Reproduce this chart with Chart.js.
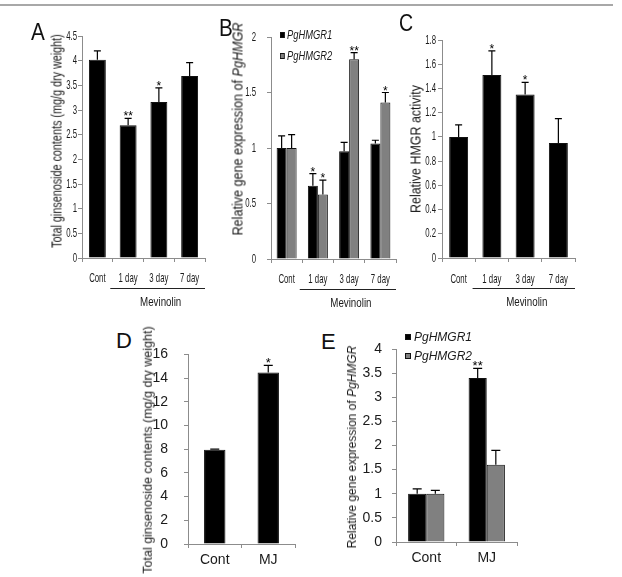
<!DOCTYPE html>
<html>
<head>
<meta charset="utf-8">
<script src="https://cdn.jsdelivr.net/npm/chart.js@4.4.0/dist/chart.umd.min.js"></script>
<style>
  body { margin: 0; background: #fff; width: 622px; height: 577px; position: relative; overflow: hidden;
         font-family: 'Liberation Sans', Arial, sans-serif; }
  canvas { position: absolute; }
  .rule { position: absolute; left: 0; top: 4px; width: 613px; height: 2px; background: #a8a8a8; }
  .letter { position: absolute; color: #111; line-height: 1; }
  .ytitle { position: absolute; white-space: nowrap; color: #1a1a1a; line-height: 1; }
  .legend { position: absolute; color: #1a1a1a; line-height: 1; transform-origin: 0 0; }
  .legend div { display: flex; align-items: center; white-space: nowrap; font-style: italic; }
  .legend span.sw { display: inline-block; box-sizing: border-box; border: 1px solid #111; margin-right: 3px; }
</style>
</head>
<body>
<div class="rule"></div>

<canvas id="chartA" width="180" height="300" style="left:30px;top:15px"></canvas>
<canvas id="chartB" width="190" height="300" style="left:212px;top:15px"></canvas>
<canvas id="chartC" width="177" height="300" style="left:405px;top:15px"></canvas>
<canvas id="chartD" width="170" height="240" style="left:135px;top:330px"></canvas>
<canvas id="chartE" width="190" height="240" style="left:340px;top:330px"></canvas>

<div class="letter" style="left:31px;top:21px;font-size:23px;transform:scaleX(0.9);transform-origin:0 0">A</div>
<div class="letter" style="left:219px;top:17px;font-size:23px;transform:scaleX(0.9);transform-origin:0 0">B</div>
<div class="letter" style="left:399px;top:12px;font-size:23px;transform:scaleX(0.85);transform-origin:0 0">C</div>
<div class="letter" style="left:116px;top:330px;font-size:22px">D</div>
<div class="letter" style="left:321px;top:331px;font-size:22px">E</div>

<div class="ytitle" style="left:56px;top:141px;font-size:15px;transform:translate(-50%,-50%) rotate(-90deg) scaleX(0.72)">Total ginsenoside contents (mg/g dry weight)</div>
<div class="ytitle" style="left:237px;top:129px;font-size:15px;transform:translate(-50%,-50%) rotate(-90deg) scaleX(0.84)">Relative gene expression of <i>PgHMGR</i></div>
<div class="ytitle" style="left:415px;top:149px;font-size:15px;transform:translate(-50%,-50%) rotate(-90deg) scaleX(0.83)">Relative HMGR activity</div>
<div class="ytitle" style="left:148px;top:450px;font-size:12.5px;transform:translate(-50%,-50%) rotate(-90deg)">Total ginsenoside contents (mg/g dry weight)</div>
<div class="ytitle" style="left:352px;top:447px;font-size:12px;transform:translate(-50%,-50%) rotate(-90deg)">Relative gene expression of <i>PgHMGR</i></div>

<div class="legend" id="legendB" style="left:280px;top:29px;font-size:12px;transform:scaleX(0.78)"></div>
<div class="legend" id="legendE" style="left:405px;top:331px;font-size:12px"></div>

<script>
// Categories
const mevinolinLabels = ['Cont', '1 day', '3 day', '7 day'];
const mjLabels = ['Cont', 'MJ'];
const geneNames = ['PgHMGR1', 'PgHMGR2'];
const groupLabel = 'Mevinolin';

// A: total ginsenoside, mevinolin
const ginsenosideMev = [4.02, 2.69, 3.16, 3.69];
const ginsenosideMevErr = [0.18, 0.14, 0.29, 0.27];
const ginsenosideMevSig = ['', '**', '*', ''];

// B: gene expression, mevinolin
const hmgr1Mev = [1.0, 0.66, 0.97, 1.04];
const hmgr1MevErr = [0.11, 0.11, 0.08, 0.03];
const hmgr1MevSig = ['', '*', '', ''];
const hmgr2Mev = [1.0, 0.58, 1.8, 1.41];
const hmgr2MevErr = [0.12, 0.13, 0.06, 0.09];
const hmgr2MevSig = ['', '*', '**', '*'];

// C: HMGR activity, mevinolin
const activityMev = [1.0, 1.51, 1.35, 0.95];
const activityMevErr = [0.1, 0.2, 0.1, 0.2];
const activityMevSig = ['', '*', '*', ''];

// D: total ginsenoside, MJ
const ginsenosideMJ = [7.95, 14.47];
const ginsenosideMJErr = [0.05, 0.6];
const ginsenosideMJSig = ['', '*'];

// E: gene expression, MJ
const hmgr1MJ = [1.0, 3.4];
const hmgr1MJErr = [0.1, 0.2];
const hmgr1MJSig = ['', '**'];
const hmgr2MJ = [1.0, 1.6];
const hmgr2MJErr = [0.07, 0.3];
const hmgr2MJSig = ['', ''];

// Y axis ranges [max, step]
const axisA = [4.5, 0.5];
const axisB = [2, 0.5];
const axisC = [1.8, 0.2];
const axisD = [16, 2];
const axisE = [4, 0.5];

const FONT = "'Liberation Sans', Arial, sans-serif";
const AXIS_COLOR = '#8c8c8c';
const TEXT_COLOR = '#1a1a1a';
const BLACK = '#000000';
const GRAY = '#808080';

function fmt(v) {
    return String(Math.round(v * 10) / 10);
}

// text squeezed horizontally (the top row of the figure is condensed)
function squeezedText(ctx, text, x, y, align, sx) {
    ctx.save();
    ctx.translate(x, y);
    ctx.scale(sx, 1);
    ctx.textAlign = align;
    ctx.textBaseline = 'middle';
    ctx.fillText(text, 0, 0);
    ctx.restore();
}

// Draws upward error bars and significance marks on top of the bars
const errorBarPlugin = {
    id: 'errorBars',
    afterDatasetsDraw(chart, args, opts) {
        const ctx = chart.ctx;
        ctx.save();
        chart.data.datasets.forEach((ds, i) => {
            const meta = chart.getDatasetMeta(i);
            const yScale = chart.scales[meta.yAxisID];
            meta.data.forEach((bar, j) => {
                const top = yScale.getPixelForValue(ds.data[j] + ds.errors[j]);
                ctx.strokeStyle = '#000';
                ctx.lineWidth = 1.2;
                ctx.beginPath();
                ctx.moveTo(bar.x, bar.y);
                ctx.lineTo(bar.x, top);
                ctx.moveTo(bar.x - opts.cap, top);
                ctx.lineTo(bar.x + opts.cap, top);
                ctx.stroke();
                if (ds.marks[j]) {
                    ctx.fillStyle = '#000';
                    ctx.font = opts.markFont;
                    ctx.textAlign = 'center';
                    ctx.textBaseline = 'alphabetic';
                    ctx.fillText(ds.marks[j], bar.x, top + opts.markShift);
                }
            });
        });
        ctx.restore();
    }
};

// Condensed tick labels for the top row
const squeezeTicksPlugin = {
    id: 'squeezeTicks',
    afterDraw(chart, args, opts) {
        if (!opts.on) return;
        const ctx = chart.ctx;
        ctx.save();
        ctx.font = opts.size + 'px ' + FONT;
        ctx.fillStyle = TEXT_COLOR;
        const ys = chart.scales.y;
        ys.ticks.forEach((t, i) => {
            squeezedText(ctx, fmt(t.value), ys.right - opts.yGap, ys.getPixelForTick(i), 'right', opts.sx);
        });
        const xs = chart.scales.x;
        chart.data.labels.forEach((lab, i) => {
            squeezedText(ctx, lab, xs.getPixelForValue(i), xs.top + opts.xGap, 'center', opts.sx);
        });
        ctx.restore();
    }
};

// Underline + label below a group of categories
const bracketPlugin = {
    id: 'bracket',
    afterDraw(chart, args, opts) {
        if (!opts.label) return;
        const xs = chart.scales.x;
        const w = xs.width / chart.data.labels.length;
        const x1 = xs.getPixelForValue(opts.from) - opts.lead * w;
        const x2 = xs.right;
        const y = chart.chartArea.bottom + opts.offset;
        const ctx = chart.ctx;
        ctx.save();
        ctx.strokeStyle = '#222';
        ctx.lineWidth = 1;
        ctx.beginPath();
        ctx.moveTo(x1, y + 0.5);
        ctx.lineTo(x2, y + 0.5);
        ctx.stroke();
        ctx.fillStyle = TEXT_COLOR;
        ctx.font = opts.size + 'px ' + FONT;
        squeezedText(ctx, opts.label, (x1 + x2) / 2 + 3, y + 14, 'center', opts.sx);
        ctx.restore();
    }
};

function makeChart(id, labels, datasets, opt) {
    const font = { family: FONT, size: opt.tickSize };
    const native = !opt.squeeze;
    new Chart(document.getElementById(id), {
        type: 'bar',
        data: { labels: labels, datasets: datasets },
        options: {
            responsive: false,
            animation: false,
            layout: { padding: { top: opt.padTop, right: opt.padRight, left: 0, bottom: 0 } },
            datasets: {
                bar: {
                    categoryPercentage: opt.catPct,
                    barPercentage: opt.barPct,
                    borderWidth: 1,
                    borderColor: '#111'
                }
            },
            plugins: {
                legend: { display: false },
                tooltip: { enabled: false },
                errorBars: { cap: opt.cap, markFont: opt.markFont, markShift: opt.markShift },
                squeezeTicks: opt.squeeze || { on: false },
                bracket: opt.bracket || {}
            },
            scales: {
                x: {
                    ticks: { display: native, font: font, color: TEXT_COLOR, padding: opt.xPad, maxRotation: 0, autoSkip: false },
                    grid: { drawOnChartArea: false, drawTicks: true, tickLength: 4, color: AXIS_COLOR, offset: true },
                    border: { color: AXIS_COLOR },
                    afterFit: s => { s.height = opt.xHeight; }
                },
                y: {
                    min: 0,
                    max: opt.axis[0],
                    ticks: { display: native, stepSize: opt.axis[1], font: font, color: TEXT_COLOR, padding: opt.yPad, callback: fmt },
                    grid: { drawOnChartArea: false, drawTicks: true, tickLength: 4, color: AXIS_COLOR },
                    border: { color: AXIS_COLOR },
                    afterFit: s => { s.width = opt.yWidth; }
                }
            }
        },
        plugins: [errorBarPlugin, squeezeTicksPlugin, bracketPlugin]
    });
}

function series(values, errors, marks, color) {
    return { data: values, errors: errors, marks: marks, backgroundColor: color };
}

const mevBracket = { label: groupLabel, from: 1, lead: 0.58, offset: 30, size: 13, sx: 0.75 };
const topMark = '12px ' + FONT;

// A
makeChart('chartA', mevinolinLabels,
    [series(ginsenosideMev, ginsenosideMevErr, ginsenosideMevSig, BLACK)],
    { tickSize: 11, axis: axisA, yWidth: 52, xHeight: 57, padTop: 21, padRight: 5,
      catPct: 1, barPct: 0.55, cap: 3.5, markFont: topMark, markShift: 2,
      squeeze: { on: true, size: 13, sx: 0.6, yGap: 5, xGap: 20 },
      bracket: mevBracket });

// B
makeChart('chartB', mevinolinLabels,
    [series(hmgr1Mev, hmgr1MevErr, hmgr1MevSig, BLACK),
     series(hmgr2Mev, hmgr2MevErr, hmgr2MevSig, GRAY)],
    { tickSize: 11, axis: axisB, yWidth: 59, xHeight: 56, padTop: 22, padRight: 6,
      catPct: 0.64, barPct: 1, cap: 3.5, markFont: topMark, markShift: 2,
      squeeze: { on: true, size: 13, sx: 0.6, yGap: 15, xGap: 20 },
      bracket: mevBracket });

// C
makeChart('chartC', mevinolinLabels,
    [series(activityMev, activityMevErr, activityMevSig, BLACK)],
    { tickSize: 11, axis: axisC, yWidth: 37, xHeight: 57, padTop: 25, padRight: 7,
      catPct: 1, barPct: 0.57, cap: 3.5, markFont: topMark, markShift: 2,
      squeeze: { on: true, size: 13, sx: 0.6, yGap: 6, xGap: 21 },
      bracket: mevBracket });

// D
makeChart('chartD', mjLabels,
    [series(ginsenosideMJ, ginsenosideMJErr, ginsenosideMJSig, BLACK)],
    { tickSize: 14, axis: axisD, yWidth: 53, xHeight: 26, padTop: 21, padRight: 10,
      catPct: 1, barPct: 0.4, xPad: 4, yPad: 16, cap: 4.5, markFont: '13px ' + FONT, markShift: 2 });

// E
makeChart('chartE', mjLabels,
    [series(hmgr1MJ, hmgr1MJErr, hmgr1MJSig, BLACK),
     series(hmgr2MJ, hmgr2MJErr, hmgr2MJSig, GRAY)],
    { tickSize: 14, axis: axisE, yWidth: 56, xHeight: 28, padTop: 19, padRight: 13,
      catPct: 0.6, barPct: 1, xPad: 4, yPad: 10, cap: 4.5, markFont: '13px ' + FONT, markShift: 2 });

// Legends for the two gene-expression panels
function buildLegend(id, names, colors, box, gap) {
    const el = document.getElementById(id);
    names.forEach((name, i) => {
        const row = document.createElement('div');
        row.style.marginBottom = gap + 'px';
        const sw = document.createElement('span');
        sw.className = 'sw';
        sw.style.width = box + 'px';
        sw.style.height = box + 'px';
        sw.style.background = colors[i];
        row.appendChild(sw);
        row.appendChild(document.createTextNode(name));
        el.appendChild(row);
    });
}
buildLegend('legendB', geneNames, [BLACK, GRAY], 6, 9);
buildLegend('legendE', geneNames, [BLACK, GRAY], 6, 7);
</script>
</body>
</html>
